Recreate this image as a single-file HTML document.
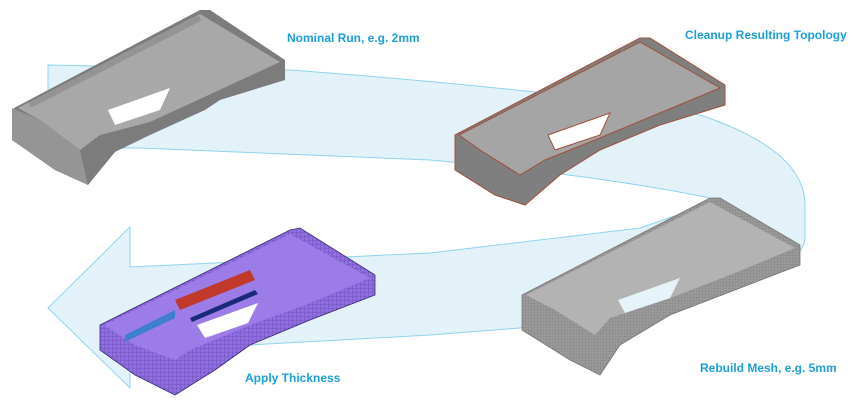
<!DOCTYPE html>
<html><head><style>
html,body{margin:0;padding:0;background:#fff;width:859px;height:415px;overflow:hidden}
.l{position:absolute;font:bold 12px "Liberation Sans",sans-serif;color:#1b9fd9;white-space:nowrap}
</style></head><body>
<svg width="859" height="415" style="position:absolute;left:0;top:0">
<defs>
<pattern id="mesh" width="4" height="4" patternUnits="userSpaceOnUse"><rect width="4" height="4" fill="#8f6ee0"/><path d="M0 0H4M0 0V4" stroke="#5b3fa8" stroke-width="0.6"/></pattern>
<pattern id="gmesh" width="3" height="3" patternUnits="userSpaceOnUse"><rect width="3" height="3" fill="#9a9a9a"/><path d="M0 0H3M0 0V3" stroke="#7a7a7a" stroke-width="0.5"/></pattern>
</defs>
<path d="M48 65 L290 70 Q560 90 700 115 Q805 150 805 205 L805 240 Q800 262 765 272 Q650 310 520 328 L430 335 L250 345 L130 345 L130 388 L48 308 L130 227 L130 267 L430 253 L640 228 L720 200 Q600 175 430 160 L140 148 L48 148 Z" fill="#e3f2f9" stroke="#8fd3ee" stroke-width="1"/>
<!-- part1 -->
<g>
<polygon points="14,108 200,10 210,10 285,60 285,80 220,100 205,110 150,135 115,152 88,185 55,170 12,140" fill="#7c7c7c"/>
<polygon points="18,108 200,14 280,62 215,92 150,122 100,135 80,150 40,120" fill="#a8a8a8"/>
<polygon points="108,110 170,88 160,110 115,125" fill="#fff"/>
<polygon points="12,108 40,120 80,150 88,185 55,170 12,140" fill="#959595"/>
<path d="M30 105 L200 18" stroke="#888" stroke-width="6" opacity=".6"/>
</g>
<!-- part2 -->
<g stroke="#a0503a" stroke-width="1">
<polygon points="455,135 640,38 650,38 725,85 725,105 660,125 600,150 560,175 525,205 495,195 455,170" fill="#7f7f7f"/>
<polygon points="459,135 640,42 720,88 655,115 595,140 545,160 520,175 480,150" fill="#a5a5a5"/>
<polygon points="548,135 610,113 600,135 555,150" fill="#fff"/>
</g>
<!-- part3 -->
<g>
<polygon points="522,295 710,198 720,198 800,245 800,265 735,290 670,315 620,345 600,375 570,360 522,330" fill="url(#gmesh)" stroke="#777" stroke-width="0.8"/>
<polygon points="526,295 710,202 795,248 730,275 665,300 610,318 595,335 555,310" fill="#b3b3b3"/>
<polygon points="618,300 680,278 670,298 625,313" fill="#e6f4fa"/>
</g>
<!-- part4 -->
<g>
<polygon points="100,325 290,230 300,228 375,275 375,295 310,320 250,345 215,370 175,395 135,375 100,350" fill="url(#mesh)" stroke="#3b2a70" stroke-width="0.8"/>
<polygon points="104,325 290,234 370,278 305,305 250,325 190,350 175,360 135,345" fill="#9c7de8"/>
<polygon points="197,325 258,303 248,323 205,338" fill="#fff"/>
<polygon points="175,300 250,270 255,280 180,310" fill="#c0392b"/>
<polygon points="125,335 175,310 175,318 125,342" fill="#3f7fd0"/>
<polygon points="190,318 255,290 258,294 192,322" fill="#1a2a7a"/>
</g>
</svg>
<div class="l" style="left:287px;top:31px">Nominal Run, e.g. 2mm</div>
<div class="l" style="left:685px;top:28px">Cleanup Resulting Topology</div>
<div class="l" style="left:700px;top:361px">Rebuild Mesh, e.g. 5mm</div>
<div class="l" style="left:245px;top:371px">Apply Thickness</div>
</body></html>
